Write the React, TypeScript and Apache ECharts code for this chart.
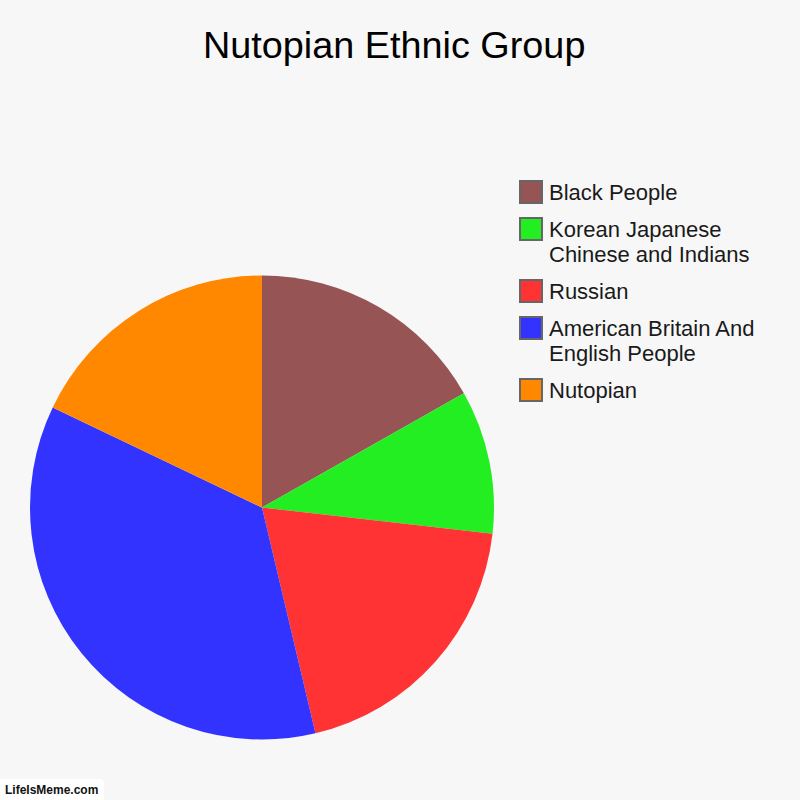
import React, { useEffect, useRef } from "react";
import * as echarts from "echarts";

const titleText = "Nutopian Ethnic Group";
const categories = [
  "Black People",
  "Korean Japanese Chinese and Indians",
  "Russian",
  "American Britain And English People",
  "Nutopian",
];
const legendLabels = [
  "Black People",
  "Korean Japanese\nChinese and Indians",
  "Russian",
  "American Britain And\nEnglish People",
  "Nutopian",
];
const values = [16.8, 10, 19.5, 35.8, 17.9];
const colors = ["#975454", "#22ee22", "#ff3333", "#3333ff", "#ff8800"];
const watermark = "LifeIsMeme.com";

const FONT = '"Liberation Sans", Arial, Helvetica, sans-serif';

export default function App() {
  const ref = useRef<HTMLDivElement>(null);

  useEffect(() => {
    if (!ref.current) return;
    const chart = echarts.init(ref.current, undefined, { renderer: "svg" });

    const legendEls: any[] = [];
    let y = 180;
    legendLabels.forEach((label, i) => {
      const lines = label.split("\n").length;
      legendEls.push({
        type: "rect",
        shape: { x: 520, y: y + 1, width: 22, height: 22 },
        style: { fill: colors[i], stroke: "#666666", lineWidth: 2 },
        silent: true,
      });
      legendEls.push({
        type: "text",
        style: {
          x: 549,
          y: y,
          text: label,
          fontSize: 22,
          fontFamily: FONT,
          fill: "#1a1a1a",
          lineHeight: 25,
          verticalAlign: "top",
          align: "left",
        },
        silent: true,
      });
      y += 24 + (lines - 1) * 25 + 13;
    });

    chart.setOption({
      animation: false,
      backgroundColor: "#f7f7f7",
      title: {
        text: titleText,
        left: 203,
        top: 26,
        padding: 0,
        textStyle: {
          fontSize: 37.8,
          fontWeight: "normal",
          color: "#000000",
          fontFamily: FONT,
        },
      },
      series: [
        {
          type: "pie",
          center: [262, 507.5],
          radius: 232,
          startAngle: 90,
          clockwise: true,
          label: { show: false },
          labelLine: { show: false },
          emphasis: { disabled: true },
          itemStyle: { borderWidth: 0 },
          data: categories.map((name, i) => ({
            name,
            value: values[i],
            itemStyle: { color: colors[i] },
          })),
        },
      ],
      graphic: [
        ...legendEls,
        {
          type: "rect",
          shape: { x: 0, y: 779, width: 104, height: 21, r: [0, 4, 0, 0] },
          style: { fill: "#ffffff" },
          silent: true,
        },
        {
          type: "text",
          style: {
            x: 5,
            y: 790,
            text: watermark,
            fontSize: 12,
            fontWeight: "bold",
            fontFamily: FONT,
            fill: "#111111",
            verticalAlign: "middle",
          },
          silent: true,
        },
      ],
    });

    return () => chart.dispose();
  }, []);

  return (
    <div
      ref={ref}
      style={{ position: "fixed", left: 0, top: 0, width: 800, height: 800 }}
    />
  );
}
